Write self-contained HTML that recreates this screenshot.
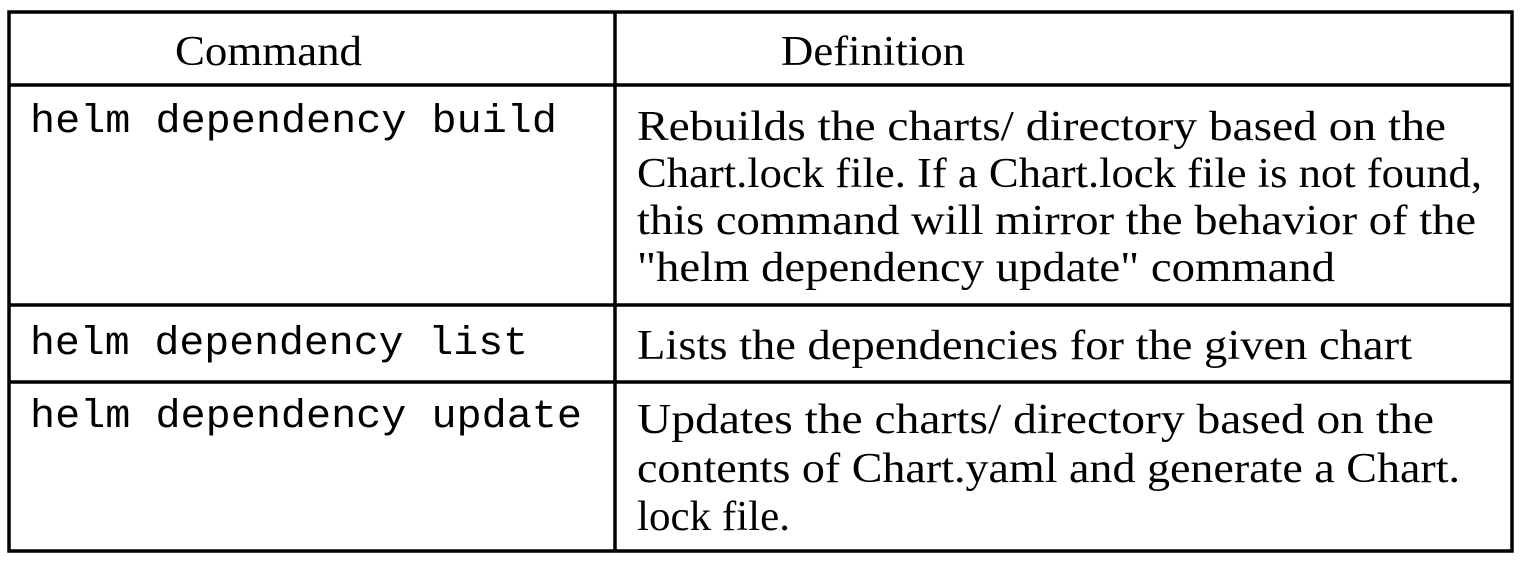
<!DOCTYPE html>
<html><head><style>html,body{margin:0;padding:0;background:#fff}svg{display:block}</style></head>
<body>
<svg width="1524" height="564" viewBox="0 0 1524 564" xmlns="http://www.w3.org/2000/svg">
<g stroke="#000" stroke-width="3.5" fill="none">
<rect x="9" y="12" width="1503" height="539"/>
<line x1="615" y1="12" x2="615" y2="551"/>
<line x1="9" y1="85" x2="1512" y2="85"/>
<line x1="9" y1="305" x2="1512" y2="305"/>
<line x1="9" y1="382" x2="1512" y2="382"/>
</g>
<g font-family="Liberation Serif, serif" font-size="42" fill="#000">
<text x="175" y="65" textLength="187" lengthAdjust="spacingAndGlyphs">Command</text>
<text x="781" y="65" textLength="184" lengthAdjust="spacingAndGlyphs">Definition</text>
<text x="637" y="140" textLength="809" lengthAdjust="spacingAndGlyphs">Rebuilds the charts/ directory based on the</text>
<text x="637" y="187" textLength="845" lengthAdjust="spacingAndGlyphs">Chart.lock file. If a Chart.lock file is not found,</text>
<text x="637" y="234" textLength="839" lengthAdjust="spacingAndGlyphs">this command will mirror the behavior of the</text>
<text x="637" y="281" textLength="698" lengthAdjust="spacingAndGlyphs">"helm dependency update" command</text>
<text x="637" y="359" textLength="775" lengthAdjust="spacingAndGlyphs">Lists the dependencies for the given chart</text>
<text x="637" y="433" textLength="797" lengthAdjust="spacingAndGlyphs">Updates the charts/ directory based on the</text>
<text x="637" y="482" textLength="823" lengthAdjust="spacingAndGlyphs">contents of Chart.yaml and generate a Chart.</text>
<text x="637" y="530" textLength="153" lengthAdjust="spacingAndGlyphs">lock file.</text>
</g>
<g font-family="Liberation Mono, monospace" font-size="40" fill="#000">
<text x="30" y="132" textLength="527" lengthAdjust="spacingAndGlyphs">helm dependency build</text>
<text x="30" y="354" textLength="498" lengthAdjust="spacingAndGlyphs">helm dependency list</text>
<text x="30" y="427" textLength="552" lengthAdjust="spacingAndGlyphs">helm dependency update</text>
</g>
</svg>
</body></html>
